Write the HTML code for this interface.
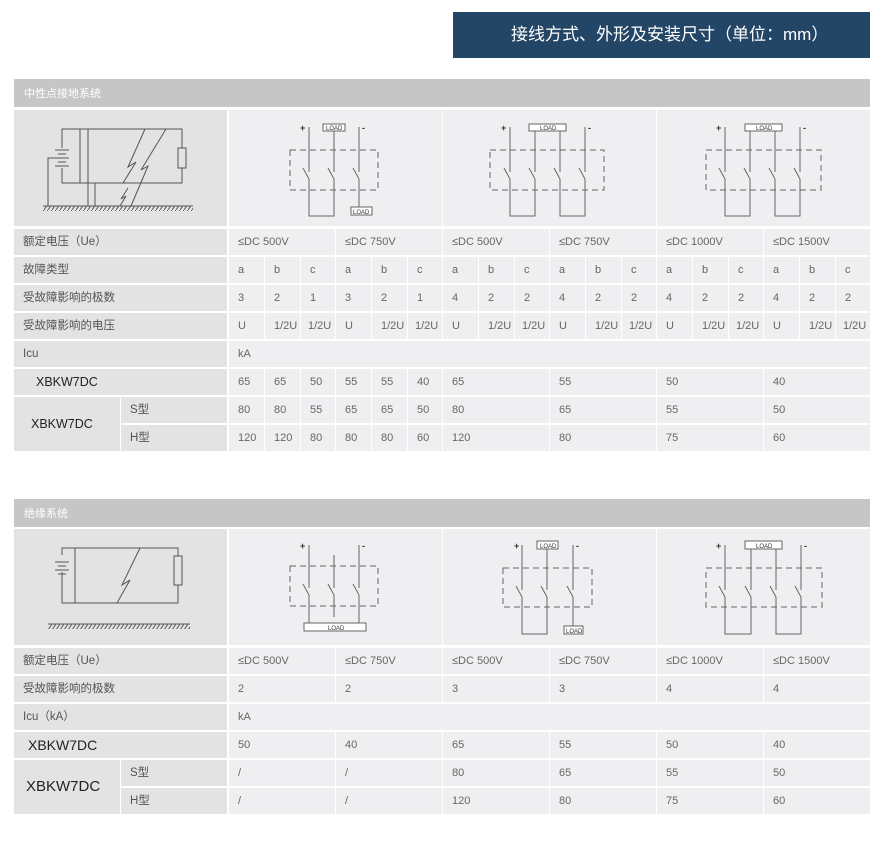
<!DOCTYPE html>
<html><head><meta charset="utf-8">
<style>
*{margin:0;padding:0;box-sizing:border-box}
body{width:882px;height:843px;background:#fff;position:relative;overflow:hidden;font-family:"Liberation Sans","Noto Sans CJK SC",sans-serif;color:#555}
.a{position:absolute}
.hd{left:453px;top:12px;width:417px;height:46px;background:#234566;color:#fff;font-size:17px;line-height:46px;padding-left:58px}
.tb{left:14px;width:856px;height:28px;background:#c6c6c6;color:#fff;font-size:11px;line-height:30px;padding-left:10px}
.l{position:absolute;height:26px;line-height:26px;background:#e3e3e3;font-size:11.5px;padding-left:9px;color:#555}
.c{position:absolute;height:26px;line-height:26px;background:#efeff1;font-size:11px;padding-left:9px;color:#666}
.x{font-family:"Liberation Sans",sans-serif;color:#222}
svg{position:absolute;left:0;top:0}
</style></head><body>
<div class="a hd">接线方式、外形及安装尺寸（单位：mm）</div>

<div class="a tb" style="top:79px">中性点接地系统</div>
<div class="a" style="left:14px;top:110px;width:213px;height:116px;background:#e3e3e3"></div>
<div class="a" style="left:229px;top:110px;width:213px;height:116px;background:#efeff1"></div>
<div class="a" style="left:443px;top:110px;width:213px;height:116px;background:#efeff1"></div>
<div class="a" style="left:657px;top:110px;width:213px;height:116px;background:#efeff1"></div>

<!-- row Ue -->
<div class="l" style="left:14px;top:229px;width:213px">额定电压（Ue）</div>
<div class="c" style="left:229px;top:229px;width:106px">≤DC 500V</div>
<div class="c" style="left:336px;top:229px;width:106px">≤DC 750V</div>
<div class="c" style="left:443px;top:229px;width:106px">≤DC 500V</div>
<div class="c" style="left:550px;top:229px;width:106px">≤DC 750V</div>
<div class="c" style="left:657px;top:229px;width:106px">≤DC 1000V</div>
<div class="c" style="left:764px;top:229px;width:106px">≤DC 1500V</div>

<!-- 故障类型 -->
<div class="l" style="left:14px;top:257px;width:213px">故障类型</div>
<div class="c" style="left:229px;top:257px;width:35px">a</div><div class="c" style="left:265px;top:257px;width:35px">b</div><div class="c" style="left:301px;top:257px;width:34px">c</div>
<div class="c" style="left:336px;top:257px;width:35px">a</div><div class="c" style="left:372px;top:257px;width:35px">b</div><div class="c" style="left:408px;top:257px;width:34px">c</div>
<div class="c" style="left:443px;top:257px;width:35px">a</div><div class="c" style="left:479px;top:257px;width:35px">b</div><div class="c" style="left:515px;top:257px;width:34px">c</div>
<div class="c" style="left:550px;top:257px;width:35px">a</div><div class="c" style="left:586px;top:257px;width:35px">b</div><div class="c" style="left:622px;top:257px;width:34px">c</div>
<div class="c" style="left:657px;top:257px;width:35px">a</div><div class="c" style="left:693px;top:257px;width:35px">b</div><div class="c" style="left:729px;top:257px;width:34px">c</div>
<div class="c" style="left:764px;top:257px;width:35px">a</div><div class="c" style="left:800px;top:257px;width:35px">b</div><div class="c" style="left:836px;top:257px;width:34px">c</div>

<!-- 极数 -->
<div class="l" style="left:14px;top:285px;width:213px">受故障影响的极数</div>
<div class="c" style="left:229px;top:285px;width:35px">3</div><div class="c" style="left:265px;top:285px;width:35px">2</div><div class="c" style="left:301px;top:285px;width:34px">1</div>
<div class="c" style="left:336px;top:285px;width:35px">3</div><div class="c" style="left:372px;top:285px;width:35px">2</div><div class="c" style="left:408px;top:285px;width:34px">1</div>
<div class="c" style="left:443px;top:285px;width:35px">4</div><div class="c" style="left:479px;top:285px;width:35px">2</div><div class="c" style="left:515px;top:285px;width:34px">2</div>
<div class="c" style="left:550px;top:285px;width:35px">4</div><div class="c" style="left:586px;top:285px;width:35px">2</div><div class="c" style="left:622px;top:285px;width:34px">2</div>
<div class="c" style="left:657px;top:285px;width:35px">4</div><div class="c" style="left:693px;top:285px;width:35px">2</div><div class="c" style="left:729px;top:285px;width:34px">2</div>
<div class="c" style="left:764px;top:285px;width:35px">4</div><div class="c" style="left:800px;top:285px;width:35px">2</div><div class="c" style="left:836px;top:285px;width:34px">2</div>

<!-- 电压 -->
<div class="l" style="left:14px;top:313px;width:213px">受故障影响的电压</div>
<div class="c" style="left:229px;top:313px;width:35px">U</div><div class="c" style="left:265px;top:313px;width:35px">1/2U</div><div class="c" style="left:301px;top:313px;width:34px;padding-left:7px">1/2U</div>
<div class="c" style="left:336px;top:313px;width:35px">U</div><div class="c" style="left:372px;top:313px;width:35px">1/2U</div><div class="c" style="left:408px;top:313px;width:34px;padding-left:7px">1/2U</div>
<div class="c" style="left:443px;top:313px;width:35px">U</div><div class="c" style="left:479px;top:313px;width:35px">1/2U</div><div class="c" style="left:515px;top:313px;width:34px;padding-left:7px">1/2U</div>
<div class="c" style="left:550px;top:313px;width:35px">U</div><div class="c" style="left:586px;top:313px;width:35px">1/2U</div><div class="c" style="left:622px;top:313px;width:34px;padding-left:7px">1/2U</div>
<div class="c" style="left:657px;top:313px;width:35px">U</div><div class="c" style="left:693px;top:313px;width:35px">1/2U</div><div class="c" style="left:729px;top:313px;width:34px;padding-left:7px">1/2U</div>
<div class="c" style="left:764px;top:313px;width:35px">U</div><div class="c" style="left:800px;top:313px;width:35px">1/2U</div><div class="c" style="left:836px;top:313px;width:34px;padding-left:7px">1/2U</div>

<!-- Icu -->
<div class="l" style="left:14px;top:341px;width:213px">Icu</div>
<div class="c" style="left:229px;top:341px;width:641px">kA</div>

<!-- XBKW7DC row -->
<div class="l x" style="left:14px;top:369px;width:213px;padding-left:22px;font-size:12.5px">XBKW7DC</div>
<div class="c" style="left:229px;top:369px;width:35px">65</div><div class="c" style="left:265px;top:369px;width:35px">65</div><div class="c" style="left:301px;top:369px;width:34px">50</div>
<div class="c" style="left:336px;top:369px;width:35px">55</div><div class="c" style="left:372px;top:369px;width:35px">55</div><div class="c" style="left:408px;top:369px;width:34px">40</div>
<div class="c" style="left:443px;top:369px;width:106px">65</div>
<div class="c" style="left:550px;top:369px;width:106px">55</div>
<div class="c" style="left:657px;top:369px;width:106px">50</div>
<div class="c" style="left:764px;top:369px;width:106px">40</div>

<div class="l x" style="left:14px;top:397px;width:106px;height:54px;line-height:54px;padding-left:17px;font-size:12.5px">XBKW7DC</div>
<div class="l" style="left:121px;top:397px;width:106px">S型</div>
<div class="c" style="left:229px;top:397px;width:35px">80</div><div class="c" style="left:265px;top:397px;width:35px">80</div><div class="c" style="left:301px;top:397px;width:34px">55</div>
<div class="c" style="left:336px;top:397px;width:35px">65</div><div class="c" style="left:372px;top:397px;width:35px">65</div><div class="c" style="left:408px;top:397px;width:34px">50</div>
<div class="c" style="left:443px;top:397px;width:106px">80</div>
<div class="c" style="left:550px;top:397px;width:106px">65</div>
<div class="c" style="left:657px;top:397px;width:106px">55</div>
<div class="c" style="left:764px;top:397px;width:106px">50</div>

<div class="l" style="left:121px;top:425px;width:106px">H型</div>
<div class="c" style="left:229px;top:425px;width:35px">120</div><div class="c" style="left:265px;top:425px;width:35px">120</div><div class="c" style="left:301px;top:425px;width:34px">80</div>
<div class="c" style="left:336px;top:425px;width:35px">80</div><div class="c" style="left:372px;top:425px;width:35px">80</div><div class="c" style="left:408px;top:425px;width:34px">60</div>
<div class="c" style="left:443px;top:425px;width:106px">120</div>
<div class="c" style="left:550px;top:425px;width:106px">80</div>
<div class="c" style="left:657px;top:425px;width:106px">75</div>
<div class="c" style="left:764px;top:425px;width:106px">60</div>

<!-- TABLE 2 -->
<div class="a tb" style="top:499px">绝缘系统</div>
<div class="a" style="left:14px;top:529px;width:213px;height:116px;background:#e3e3e3"></div>
<div class="a" style="left:229px;top:529px;width:213px;height:116px;background:#efeff1"></div>
<div class="a" style="left:443px;top:529px;width:213px;height:116px;background:#efeff1"></div>
<div class="a" style="left:657px;top:529px;width:213px;height:116px;background:#efeff1"></div>

<div class="l" style="left:14px;top:648px;width:213px">额定电压（Ue）</div>
<div class="c" style="left:229px;top:648px;width:106px">≤DC 500V</div>
<div class="c" style="left:336px;top:648px;width:106px">≤DC 750V</div>
<div class="c" style="left:443px;top:648px;width:106px">≤DC 500V</div>
<div class="c" style="left:550px;top:648px;width:106px">≤DC 750V</div>
<div class="c" style="left:657px;top:648px;width:106px">≤DC 1000V</div>
<div class="c" style="left:764px;top:648px;width:106px">≤DC 1500V</div>

<div class="l" style="left:14px;top:676px;width:213px">受故障影响的极数</div>
<div class="c" style="left:229px;top:676px;width:106px">2</div>
<div class="c" style="left:336px;top:676px;width:106px">2</div>
<div class="c" style="left:443px;top:676px;width:106px">3</div>
<div class="c" style="left:550px;top:676px;width:106px">3</div>
<div class="c" style="left:657px;top:676px;width:106px">4</div>
<div class="c" style="left:764px;top:676px;width:106px">4</div>

<div class="l" style="left:14px;top:704px;width:213px">Icu（kA）</div>
<div class="c" style="left:229px;top:704px;width:641px">kA</div>

<div class="l x" style="left:14px;top:732px;width:213px;padding-left:14px;font-size:14px">XBKW7DC</div>
<div class="c" style="left:229px;top:732px;width:106px">50</div>
<div class="c" style="left:336px;top:732px;width:106px">40</div>
<div class="c" style="left:443px;top:732px;width:106px">65</div>
<div class="c" style="left:550px;top:732px;width:106px">55</div>
<div class="c" style="left:657px;top:732px;width:106px">50</div>
<div class="c" style="left:764px;top:732px;width:106px">40</div>

<div class="l x" style="left:14px;top:760px;width:106px;height:54px;line-height:54px;padding-left:12px;font-size:15px">XBKW7DC</div>
<div class="l" style="left:121px;top:760px;width:106px">S型</div>
<div class="c" style="left:229px;top:760px;width:106px">/</div>
<div class="c" style="left:336px;top:760px;width:106px">/</div>
<div class="c" style="left:443px;top:760px;width:106px">80</div>
<div class="c" style="left:550px;top:760px;width:106px">65</div>
<div class="c" style="left:657px;top:760px;width:106px">55</div>
<div class="c" style="left:764px;top:760px;width:106px">50</div>

<div class="l" style="left:121px;top:788px;width:106px">H型</div>
<div class="c" style="left:229px;top:788px;width:106px">/</div>
<div class="c" style="left:336px;top:788px;width:106px">/</div>
<div class="c" style="left:443px;top:788px;width:106px">120</div>
<div class="c" style="left:550px;top:788px;width:106px">80</div>
<div class="c" style="left:657px;top:788px;width:106px">75</div>
<div class="c" style="left:764px;top:788px;width:106px">60</div>

<svg width="882" height="843" viewBox="0 0 882 843" fill="none" stroke="#555" stroke-width="1">
<defs>
<pattern id="h" width="4" height="6" patternUnits="userSpaceOnUse"><path d="M0 6 L4 0" stroke="#555"/></pattern>
</defs>
<!-- left diagram 1 -->
<path d="M62 148V129H182V148M62 168V183H182V168M182 148h4v20h-8v-20h4"/>
<path d="M55 150h14M58 154h8M55 158h14M58 162h8M55 166h14" />
<path d="M55 158H48V206M80 129V183M88 129V206M95 183V206"/>
<path d="M145 129L128 167L136 162L123 183M166 129L141 170L148 166L131 206M128 188L121 199L126 196L120 206"/>
<rect x="43" y="206" width="150" height="5" fill="url(#h)" stroke="none"/>
<path d="M43 206H193"/>
<!-- left diagram 2 -->
<path d="M62 555V548H178V556M62 572V603H178V585M174 556h8v29h-8z"/>
<path d="M55 562h14M58 566h8M55 570h14M58 574h8"/>
<path d="M75 548V603M140 548L122 585L130 580L117 603"/>
<rect x="48" y="624" width="142" height="5" fill="url(#h)" stroke="none"/>
<path d="M48 624H190"/>

<g stroke="#666">
<!-- T1 D1 -->
<rect x="290" y="150" width="88" height="40" stroke-dasharray="6 4"/>
<path d="M309 127V172M303 168L309 179M309 179V216H334V179M328 168L334 179M334 131V172M359 127V172M353 168L359 179M359 179V207"/>
<rect x="323" y="124" width="22" height="7" fill="#fff"/><rect x="351" y="207" width="21" height="8" fill="#fff"/>
<!-- T1 D2 -->
<rect x="490" y="150" width="114" height="40" stroke-dasharray="6 4"/>
<path d="M510 127V172M504 168L510 179M510 179V216H535V179M529 168L535 179M535 131V172M560 131V172M554 168L560 179M560 179V216H585V179M579 168L585 179M585 127V172"/>
<rect x="529" y="124" width="37" height="7" fill="#fff"/>
<!-- T1 D3 -->
<rect x="706" y="150" width="115" height="40" stroke-dasharray="6 4"/>
<path d="M725 127V172M719 168L725 179M725 179V216H750V179M744 168L750 179M750 131V172M775 131V172M769 168L775 179M775 179V216H800V179M794 168L800 179M800 127V172"/>
<rect x="745" y="124" width="37" height="7" fill="#fff"/>
<!-- T2 D1 -->
<rect x="290" y="566" width="88" height="40" stroke-dasharray="6 4"/>
<path d="M309 545V588M303 584L309 595M309 595V623M334 555V588M328 584L334 595M334 595V617M359 545V588M353 584L359 595M359 595V623"/>
<rect x="304" y="623" width="62" height="8" fill="#fff"/>
<!-- T2 D2 -->
<rect x="503" y="568" width="89" height="39" stroke-dasharray="6 4"/>
<path d="M522 545V590M516 586L522 597M522 597V634H547V597M541 586L547 597M547 549V590M573 545V590M567 586L573 597M573 597V626"/>
<rect x="537" y="541" width="21" height="8" fill="#fff"/><rect x="564" y="626" width="19" height="8" fill="#fff"/>
<!-- T2 D3 -->
<rect x="706" y="568" width="116" height="39" stroke-dasharray="6 4"/>
<path d="M725 545V590M719 586L725 597M725 597V634H751V597M745 586L751 597M751 549V590M776 549V590M770 586L776 597M776 597V634H801V597M795 586L801 597M801 545V590"/>
<rect x="745" y="541" width="37" height="8" fill="#fff"/>
</g>
<g fill="#333" stroke="none" font-family="Liberation Sans,sans-serif" font-size="6">
<text x="326" y="130">LOAD</text><text x="353" y="214">LOAD</text>
<text x="540" y="130">LOAD</text><text x="756" y="130">LOAD</text>
<text x="328" y="630">LOAD</text><text x="540" y="548">LOAD</text><text x="566" y="633">LOAD</text><text x="756" y="548">LOAD</text>
<g font-size="9" font-weight="bold">
<text x="300" y="131">+</text><text x="362" y="131">-</text>
<text x="501" y="131">+</text><text x="588" y="131">-</text>
<text x="716" y="131">+</text><text x="803" y="131">-</text>
<text x="300" y="549">+</text><text x="362" y="549">-</text>
<text x="514" y="549">+</text><text x="576" y="549">-</text>
<text x="716" y="549">+</text><text x="804" y="549">-</text>
</g>
</g>
</svg>
</body></html>
